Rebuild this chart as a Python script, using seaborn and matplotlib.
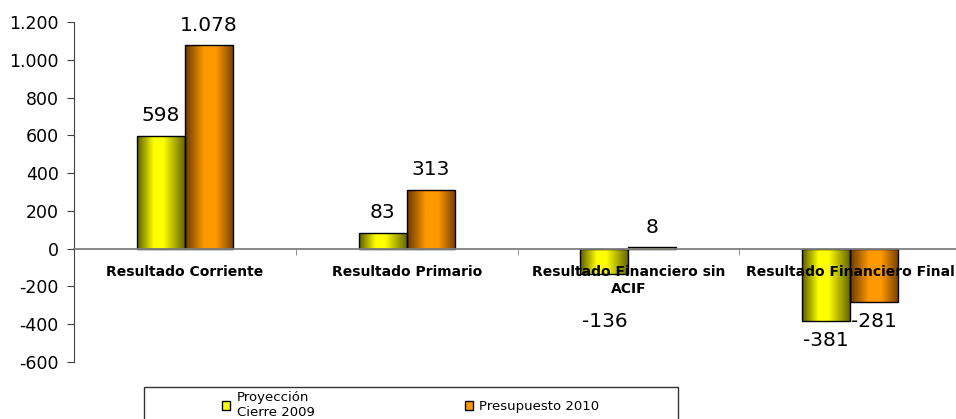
import numpy as np
import pandas as pd
import matplotlib
matplotlib.use("Agg")
import matplotlib.pyplot as plt
import seaborn as sns
from matplotlib.colors import LinearSegmentedColormap
from matplotlib.patches import Patch, Rectangle
from matplotlib.ticker import FuncFormatter

categories = ["Resultado Corriente", "Resultado Primario",
              "Resultado Financiero sin ACIF", "Resultado Financiero Final"]
tick_labels = ["Resultado Corriente", "Resultado Primario",
               "Resultado Financiero sin\nACIF", "Resultado Financiero Final"]
series = ["Proyección Cierre 2009", "Presupuesto 2010"]
legend_labels = ["Proyección\nCierre 2009", "Presupuesto 2010"]
proyeccion_2009 = [598, 83, -136, -381]
presupuesto_2010 = [1078, 313, 8, -281]

df = pd.DataFrame({
    "categoria": categories * 2,
    "serie": [series[0]] * len(categories) + [series[1]] * len(categories),
    "valor": proyeccion_2009 + presupuesto_2010,
})

colors = {series[0]: "#FFFF00", series[1]: "#FF9900"}
# Excel-like cylinder shading for each series
cmaps = [
    LinearSegmentedColormap.from_list("amarillo", [(0, "#5a5a00"), (0.35, "#ffff00"),
                                                   (0.55, "#ffff00"), (1, "#666600")]),
    LinearSegmentedColormap.from_list("naranja", [(0, "#6a3800"), (0.4, "#ff9900"),
                                                  (0.65, "#ff9900"), (1, "#7a4200")]),
]

plt.rcParams["font.family"] = ["DejaVu Sans"]
fig = plt.figure(figsize=(9.56, 4.19), dpi=100)
ax = fig.add_axes([74 / 956, 1 - 362 / 419, (961 - 74) / 956, (362 - 22) / 419])

sns.barplot(data=df, x="categoria", y="valor", hue="serie", order=categories,
            hue_order=series, palette=colors, width=0.432, errorbar=None,
            legend=False, edgecolor="black", linewidth=1, ax=ax)

grad = np.linspace(0, 1, 256)[None, :]
for cont, cmap in zip(ax.containers, cmaps):
    for bar in cont:
        x0, w = bar.get_x(), bar.get_width()
        y0, h = bar.get_y(), bar.get_height()
        im = ax.imshow(grad, cmap=cmap, aspect="auto", interpolation="bicubic",
                       extent=(x0, x0 + w, min(y0, y0 + h), max(y0, y0 + h)), zorder=1.1)
        im.set_clip_path(bar)
        bar.set_facecolor("none")
        bar.set_zorder(1.2)

ax.set_xlim(-0.5, 3.5)
ax.set_ylim(-600, 1200)

# value labels
extra = {(0, 2): 27}
for si, (cont, vals) in enumerate(zip(ax.containers, [proyeccion_2009, presupuesto_2010])):
    for ci, (bar, v) in enumerate(zip(cont, vals)):
        xc = bar.get_x() + bar.get_width() / 2
        off = 20 + extra.get((si, ci), 0)
        dy = off * 0.72 if v >= 0 else -off * 0.72
        ax.annotate(f"{v:,}".replace(",", "."), xy=(xc, v), xytext=(0, dy),
                    textcoords="offset points", ha="center", va="center", fontsize=14.5)

ax.set_xlabel("")
ax.set_ylabel("")
ax.set_axisbelow(False)
for s in ["top", "right"]:
    ax.spines[s].set_visible(False)
ax.spines["bottom"].set_position(("data", 0))
ax.spines["bottom"].set_color("#808080")
ax.spines["bottom"].set_linewidth(1.3)
ax.spines["left"].set_color("#404040")

ax.set_yticks(range(-600, 1201, 200))
ax.yaxis.set_major_formatter(FuncFormatter(lambda v, p: f"{v:,.0f}".replace(",", ".")))
ax.tick_params(axis="y", direction="out", length=5, color="#404040", labelsize=12.5, pad=6)

ax.set_xticks(range(len(categories)))
ax.set_xticklabels(tick_labels, fontweight="bold", fontsize=10)
ax.tick_params(axis="x", which="major", length=0, pad=12)
ax.set_xticks([0.5, 1.5, 2.5], minor=True)
ax.tick_params(axis="x", which="minor", direction="out", length=4, color="#808080")

handles = [Patch(facecolor=colors[s], edgecolor="black") for s in series]
fig.legend(handles, legend_labels, loc="upper left", bbox_to_anchor=(222 / 956, 1 - 391 / 419),
           ncol=2, frameon=False, fontsize=9.5, handlelength=0.6, handleheight=0.6,
           handletextpad=0.5, columnspacing=11.4, borderpad=0, borderaxespad=0)
fig.add_artist(Rectangle((144 / 956, -0.1), (678 - 144) / 956, 1 - 387 / 419 + 0.1,
                         transform=fig.transFigure, fill=False, edgecolor="#333333", lw=1))

fig.savefig("out.png", dpi=100)
